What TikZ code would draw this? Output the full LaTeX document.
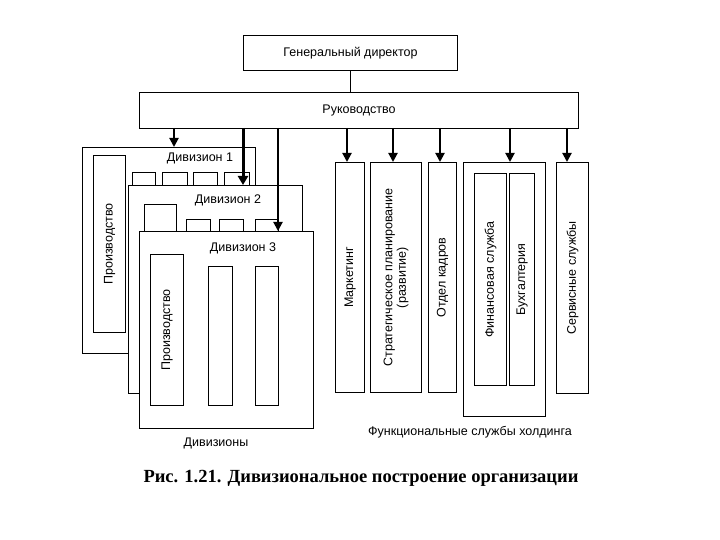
\documentclass[tikz,border=0pt]{standalone}
\usepackage{fontspec}
\setmainfont{Liberation Sans}
\newfontfamily\capfont{Liberation Serif}
\usetikzlibrary{arrows.meta}
\tikzstyle{unit} = [draw, line width=1pt, fill=white, inner sep=0pt]
\tikzstyle{lbl} = [font=\fontsize{12.5}{13.5}\selectfont]
\tikzstyle{down} = [-{Triangle[length=9pt, width=9pt]}, line width=2pt]
\tikzstyle{downthick} = [-{Triangle[length=9pt, width=10pt]}, line width=3pt]
\newcommand{\boxat}[5]{\node [unit, minimum width=#3-#1, minimum height=#4-#2, anchor=north west] (#5) at (#1,#2) {};}
\begin{document}
\begin{tikzpicture}[x=1pt, y=-1pt, line width=1pt]
		\useasboundingbox (0,0) rectangle (720,540);
		
		%
		% Top management
		\boxat{243}{35}{457}{70}{gd}
		\node [lbl] at (gd.center) {Генеральный директор};
		\boxat{139}{92}{578}{128}{ruk}
		\node [lbl] at (ruk.center) {Руководство};
		\draw (gd.south) -- (gd.south |- ruk.north);
		
		%
		% Division 1
		\boxat{82}{147}{255}{353}{div1}
		\node [lbl] at (200,158) {Дивизион 1};
		\boxat{93}{155}{125}{332}{prod1}
		\node [lbl, rotate=90] at (prod1.center) {Производство};
		\foreach \xa/\xb in {132/155, 162/187, 193/217, 224/249}
			\draw (\xa,185) -- (\xa,173) -- (\xb,173) -- (\xb,185);
		
		% Division 2
		\boxat{128}{185}{302}{393}{div2}
		\node [lbl] at (228,200) {Дивизион 2};
		\draw (144,231) -- (144,205) -- (176,205) -- (176,231);
		\foreach \xa/\xb in {186/210, 219/243, 255/278}
			\draw (\xa,231) -- (\xa,220) -- (\xb,220) -- (\xb,231);
		
		% Division 3
		\boxat{139}{231}{313}{428}{div3}
		\node [lbl] at (243,248) {Дивизион 3};
		\boxat{150}{254}{183}{405}{prod3}
		\node [lbl, rotate=90] at (prod3.center) {Производство};
		\boxat{208}{266}{232}{405}{u3a}
		\boxat{255}{266}{278}{405}{u3b}
		\node [lbl] at (216,443) {Дивизионы};
		
		\draw [down] (174,128) -- (div1.north -| 174,0);
		\draw [downthick] (243,128) -- (div2.north -| 243,0);
		\draw [down] (278,128) -- (div3.north -| 278,0);
		
		%
		% Functional services
		\boxat{335}{162}{364}{392}{mark}
		\node [lbl, rotate=90] at (mark.center) {Маркетинг};
		\boxat{370}{162}{421}{392}{strat}
		\node [lbl, rotate=90, align=center] at (strat.center) {Стратегическое планирование\\(развитие)};
		\boxat{428}{162}{456}{392}{kadr}
		\node [lbl, rotate=90] at (kadr.center) {Отдел кадров};
		\boxat{463}{162}{545}{416}{fin}
		\boxat{474}{173}{506}{385}{finsl}
		\node [lbl, rotate=90] at (finsl.center) {Финансовая служба};
		\boxat{509}{173}{534}{385}{buh}
		\node [lbl, rotate=90] at (buh.center) {Бухгалтерия};
		\boxat{556}{162}{588}{393}{serv}
		\node [lbl, rotate=90] at (serv.center) {Сервисные службы};
		\node [lbl] at (470,432) {Функциональные службы холдинга};
		
		\foreach \t/\xx in {mark/347, strat/393, kadr/440, fin/510, serv/567}
			\draw [down] (\xx,128) -- (\t.north -| \xx,0);
		
		%
		% Caption
		\node [font=\capfont\bfseries\fontsize{18.5}{20}\selectfont] at (361,478) {Рис. 1.21. Дивизиональное построение организации};
	\end{tikzpicture}
\end{document}
